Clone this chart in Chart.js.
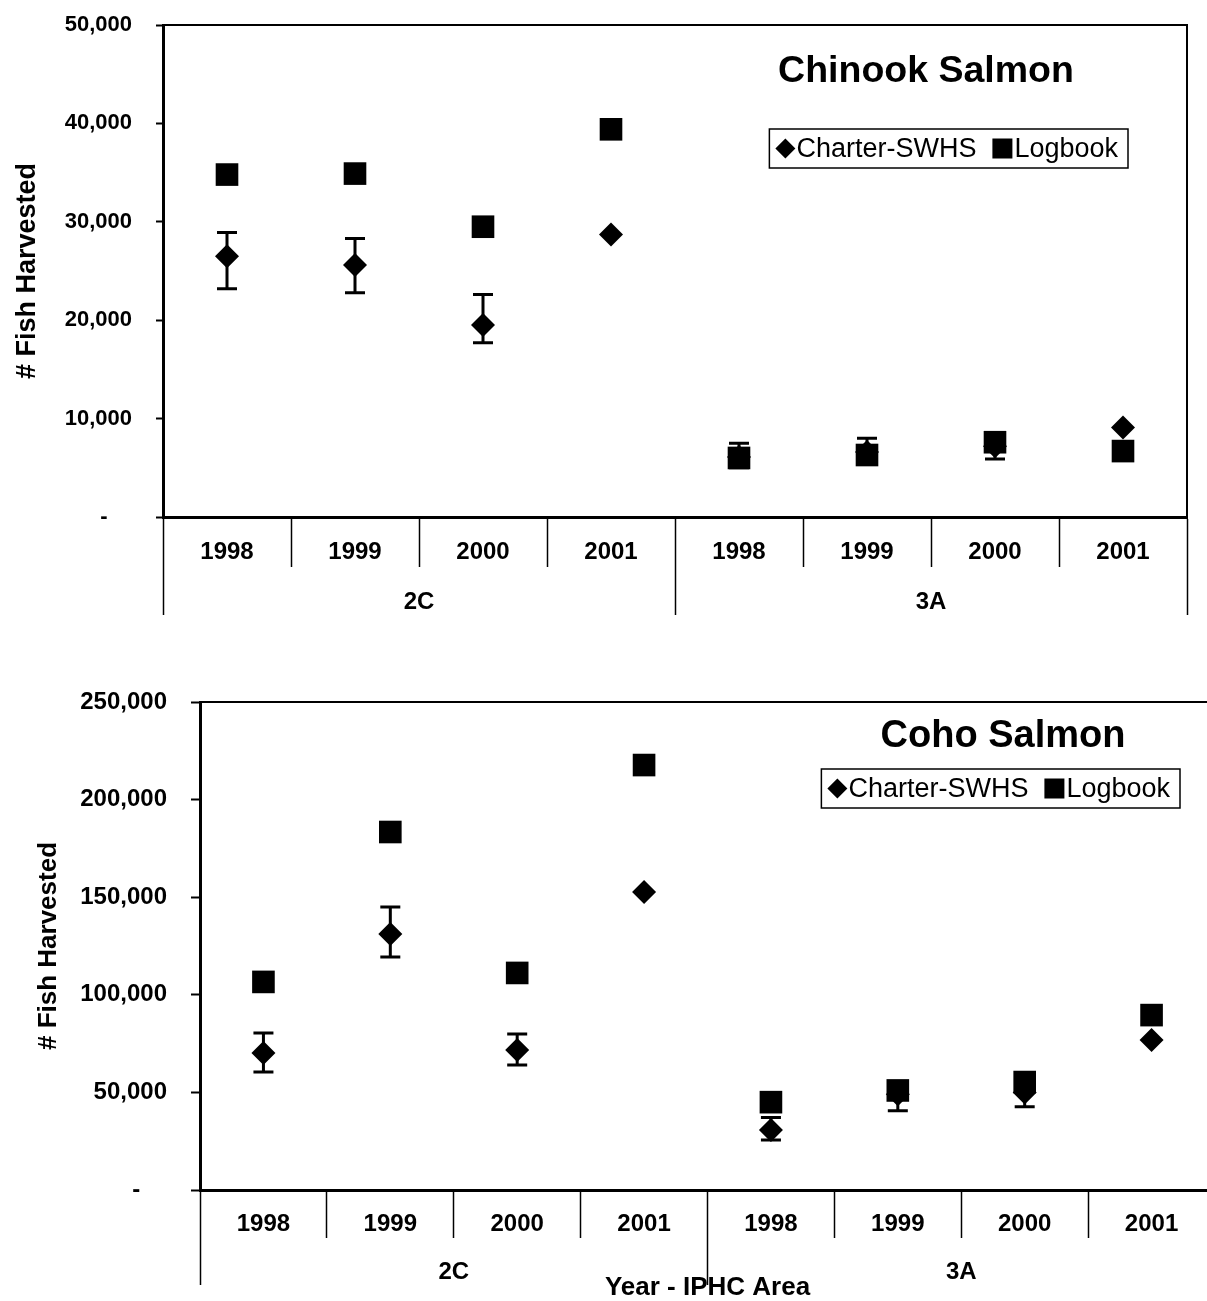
<!DOCTYPE html>
<html>
<head>
<meta charset="utf-8">
<script src="https://cdn.jsdelivr.net/npm/chart.js@4/dist/chart.umd.min.js"></script>
<style>
  html, body { margin: 0; padding: 0; background: #fff; overflow: hidden; width: 1207px; height: 1301px; }
  #wrap { position: relative; width: 1230px; height: 1301px; }
  #chinook { position: absolute; left: 0; top: 0; }
  #coho { position: absolute; left: 0; top: 670px; }
</style>
</head>
<body>
<div id="wrap">
<canvas id="chinook" width="1207" height="640"></canvas>
<canvas id="coho" width="1220" height="631"></canvas>
</div>
<script>
// kategorier: år inom varje IPHC-område
const years = ['1998', '1999', '2000', '2001', '1998', '1999', '2000', '2001'];
const areas = ['2C', '3A'];

// Chinook (kung) lax
const chinookCharter = [26500, 25600, 19500, 28700, 6100, 6600, 7200, 9100];
const chinookCharterLow = [23200, 22800, 17700, null, 5000, 5500, 5900, null];
const chinookCharterHigh = [28900, 28300, 22600, null, 7500, 8000, 8500, null];
const chinookLogbook = [34800, 34900, 29500, 39400, 6000, 6300, 7600, 6700];

// Coho (silver) lax
const cohoCharter = [70200, 131200, 71700, 152700, 30700, 49000, 50000, 76800];
const cohoCharterLow = [60400, 119400, 64000, null, 25600, 40600, 42700, null];
const cohoCharterHigh = [80400, 145000, 79900, null, 37200, 54500, 57000, null];
const cohoLogbook = [106600, 183400, 111200, 217700, 45000, 51000, 55300, 89600];

const FONT = '"Liberation Sans", Arial, Helvetica, sans-serif';

/**
 * ritar felstaplar, ram, rubrik och förklaring
 */
const decor = {
    id: 'decor',
    beforeDatasetsDraw(chart) {
        const ctx = chart.ctx;
        const y = chart.scales.y;
        chart.data.datasets.forEach((ds, i) => {
            if (!ds.errLow) return;
            const meta = chart.getDatasetMeta(i);
            meta.data.forEach((pt, j) => {
                const lo = ds.errLow[j];
                const hi = ds.errHigh[j];
                if (lo == null || hi == null) return;
                const yl = y.getPixelForValue(lo);
                const yh = y.getPixelForValue(hi);
                ctx.save();
                ctx.strokeStyle = '#000';
                ctx.lineWidth = 3;
                ctx.beginPath();
                ctx.moveTo(pt.x, yl); ctx.lineTo(pt.x, yh);
                ctx.moveTo(pt.x - 10, yl); ctx.lineTo(pt.x + 10, yl);
                ctx.moveTo(pt.x - 10, yh); ctx.lineTo(pt.x + 10, yh);
                ctx.stroke();
                ctx.restore();
            });
        });
    },
    afterDraw(chart, args, opts) {
        const ctx = chart.ctx;
        const a = chart.chartArea;
        ctx.save();
        ctx.strokeStyle = '#000';
        ctx.fillStyle = '#000';
        ctx.lineWidth = 2;
        ctx.beginPath();
        ctx.moveTo(a.left, a.top); ctx.lineTo(a.right, a.top); ctx.lineTo(a.right, a.bottom);
        ctx.stroke();

        // rubrik
        ctx.font = `bold ${opts.titleSize}px ${FONT}`;
        ctx.textAlign = 'center';
        ctx.textBaseline = 'middle';
        ctx.fillText(opts.title, a.right - opts.titleRight, a.top + opts.titleTop);

        // förklaring
        ctx.font = `${opts.legendSize}px ${FONT}`;
        const w1 = ctx.measureText('Charter-SWHS').width;
        const w2 = ctx.measureText('Logbook').width;
        const boxW = 6 + 20 + 1 + w1 + 16 + 20 + 2 + w2 + 10;
        const boxH = 39;
        const bx = a.right - opts.legendRight - boxW;
        const by = a.top + opts.legendTop;
        ctx.lineWidth = 1.5;
        ctx.strokeRect(bx, by, boxW, boxH);
        const cy = by + boxH / 2;
        let x = bx + 6;
        ctx.beginPath();
        ctx.moveTo(x, cy); ctx.lineTo(x + 10, cy - 10); ctx.lineTo(x + 20, cy); ctx.lineTo(x + 10, cy + 10);
        ctx.closePath();
        ctx.fill();
        x += 21;
        ctx.textAlign = 'left';
        ctx.fillText('Charter-SWHS', x, cy + 1);
        x += w1 + 16;
        ctx.fillRect(x, cy - 10, 20, 20);
        x += 22;
        ctx.fillText('Logbook', x, cy + 1);

        // x-axelns titel
        if (opts.xTitle) {
            ctx.font = `bold ${opts.xTitleSize}px ${FONT}`;
            ctx.textAlign = 'center';
            ctx.fillText(opts.xTitle, (a.left + a.right) / 2, chart.scales.x2.bottom + opts.xTitleDy);
        }
        ctx.restore();
    }
};

/**
 * skapar ett punktdiagram med felstaplar
 */
function makeChart(id, s) {
    return new Chart(document.getElementById(id), {
        type: 'line',
        data: {
            labels: years,
            datasets: [{
                label: 'Charter-SWHS',
                data: s.charter,
                errLow: s.low,
                errHigh: s.high,
                showLine: false,
                pointStyle: 'rectRot',
                pointRadius: 12,
                pointBorderWidth: 0,
                pointBackgroundColor: '#000',
                borderColor: '#000',
                order: 1
            }, {
                label: 'Logbook',
                data: s.logbook,
                showLine: false,
                pointStyle: 'rect',
                pointRadius: 16,
                pointBorderWidth: 0,
                pointBackgroundColor: '#000',
                borderColor: '#000',
                order: 0
            }]
        },
        options: {
            responsive: false,
            maintainAspectRatio: false,
            animation: false,
            events: [],
            layout: { padding: s.pad, autoPadding: false },
            plugins: {
                legend: { display: false },
                tooltip: { enabled: false },
                decor: s.decor
            },
            scales: {
                x: {
                    type: 'category',
                    offset: true,
                    weight: 0,
                    afterFit: sc => { sc.height = s.xH; sc.paddingLeft = 0; sc.paddingRight = 0; },
                    grid: { offset: true, drawOnChartArea: false, tickLength: s.xH, tickColor: '#000', tickWidth: 1.5 },
                    border: { display: true, color: '#000', width: 3 },
                    ticks: { color: '#000', autoSkip: false, maxRotation: 0, padding: s.xPad, font: { family: FONT, size: s.xFont, weight: 'bold' } }
                },
                x2: {
                    type: 'category',
                    position: 'bottom',
                    labels: areas,
                    offset: true,
                    weight: 1,
                    afterFit: sc => { sc.height = s.x2H; sc.paddingLeft = 0; sc.paddingRight = 0; },
                    grid: { offset: true, drawOnChartArea: false, tickLength: s.x2H, tickColor: '#000', tickWidth: 1.5 },
                    border: { display: false },
                    ticks: { color: '#000', autoSkip: false, maxRotation: 0, padding: s.x2Pad, font: { family: FONT, size: s.xFont, weight: 'bold' } }
                },
                y: {
                    min: 0,
                    max: s.yMax,
                    afterFit: sc => { sc.width = s.yWidth; sc.paddingTop = 0; sc.paddingBottom = 0; },
                    grid: { drawOnChartArea: false, tickLength: s.yTick, tickColor: '#000', tickWidth: 2 },
                    border: { display: true, color: '#000', width: 3 },
                    ticks: {
                        stepSize: s.yStep,
                        color: '#000',
                        padding: 24,
                        font: { family: FONT, size: s.yFont, weight: 'bold' },
                        callback: v => v === 0 ? '-    ' : v.toLocaleString('en-US')
                    },
                    title: {
                        display: true,
                        text: '# Fish Harvested',
                        color: '#000',
                        padding: { top: s.yTitlePad, bottom: 0 },
                        font: { family: FONT, size: s.yTitleFont, weight: 'bold' }
                    }
                }
            }
        },
        plugins: [decor]
    });
}

makeChart('chinook', {
    charter: chinookCharter, low: chinookCharterLow, high: chinookCharterHigh, logbook: chinookLogbook,
    yMax: 50000, yStep: 10000,
    pad: { top: 25, right: 20, bottom: 25, left: 0 },
    yWidth: 163, yTick: 7, yFont: 22, yTitleFont: 27, yTitlePad: 11,
    xH: 50, x2H: 48, xPad: -29, x2Pad: -27, xFont: 24,
    decor: { title: 'Chinook Salmon', titleSize: 37.5, titleRight: 261, titleTop: 47, legendRight: 59, legendTop: 104, legendSize: 27 }
});

// plottytan går lite utanför bildens högerkant, som i originalet
makeChart('coho', {
    charter: cohoCharter, low: cohoCharterLow, high: cohoCharterHigh, logbook: cohoLogbook,
    yMax: 250000, yStep: 50000,
    pad: { top: 32, right: 5, bottom: 16, left: 0 },
    yWidth: 200, yTick: 9, yFont: 24, yTitleFont: 26, yTitlePad: 33,
    xH: 48, x2H: 47, xPad: -28, x2Pad: -27, xFont: 24,
    decor: { title: 'Coho Salmon', titleSize: 38, titleRight: 212, titleTop: 35, legendRight: 35, legendTop: 67, legendSize: 27,
             xTitle: 'Year - IPHC Area', xTitleSize: 26, xTitleDy: 3 }
});
</script>
</body>
</html>
